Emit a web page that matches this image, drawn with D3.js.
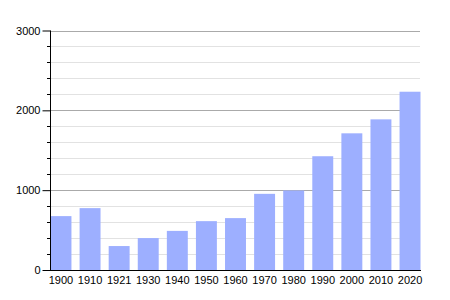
<!DOCTYPE html>
<meta charset="utf-8">
<style>
body { margin: 0; background: #fff; }
text { font: 11px "Liberation Sans", Arial, sans-serif; fill: #000; }
</style>
<body>
<script src="https://d3js.org/d3.v7.min.js"></script>
<script>

var years = ["1900","1910","1921","1930","1940","1950","1960","1970","1980","1990","2000","2010","2020"];
var population = [675, 775, 300, 400, 490, 612, 650, 954, 996, 1425, 1712, 1887, 2233];
var majorTicks = [0, 1000, 2000, 3000];

var width = 450, height = 300;
var plotLeft = 50, plotRight = 420, plotTop = 30.5, plotBottom = 270;

var svg = d3.select("body").append("svg")
    .attr("width", width)
    .attr("height", height);

var x = d3.scaleBand()
    .domain(years)
    .range([plotLeft + 0.5, plotRight + 0.5])
    .paddingInner(0.28)
    .paddingOuter(0);

var y = d3.scaleLinear()
    .domain([0, 3000])
    .range([plotBottom, plotTop]);

var minorTicks = d3.range(200, 3000, 200).filter(function(d) { return d % 1000; });

// minor grid
svg.append("g")
  .selectAll("line")
  .data(minorTicks)
  .enter().append("line")
    .attr("x1", plotLeft).attr("x2", plotRight)
    .attr("y1", function(d) { return Math.round(y(d)) + 0.5; })
    .attr("y2", function(d) { return Math.round(y(d)) + 0.5; })
    .attr("stroke", "#e2e2e2");

// major grid
svg.append("g")
  .selectAll("line")
  .data(majorTicks.slice(1))
  .enter().append("line")
    .attr("x1", plotLeft).attr("x2", plotRight)
    .attr("y1", function(d) { return Math.round(y(d)) + 0.5; })
    .attr("y2", function(d) { return Math.round(y(d)) + 0.5; })
    .attr("stroke", "#aaaaaa");

// bars
svg.append("g")
  .selectAll("rect")
  .data(years)
  .enter().append("rect")
    .attr("x", function(d) { return x(d); })
    .attr("width", x.bandwidth())
    .attr("y", function(d, i) { return y(population[i]); })
    .attr("height", function(d, i) { return y(0) - y(population[i]); })
    .attr("fill", "#9dafff");

// y axis
var yAxis = d3.axisLeft(y)
    .tickValues(majorTicks)
    .tickSize(8)
    .tickPadding(2)
    .tickFormat(d3.format("d"));

var ya = svg.append("g")
    .attr("transform", "translate(" + (plotLeft + 0.5) + ",0)")
    .call(yAxis);
ya.select(".domain").attr("stroke", "#000").attr("d", "M0," + plotTop + "V" + plotBottom);
ya.selectAll("text").style("font-size", "11px");

svg.append("g")
  .selectAll("line")
  .data(minorTicks)
  .enter().append("line")
    .attr("x1", plotLeft - 3).attr("x2", plotLeft)
    .attr("y1", function(d) { return Math.round(y(d)) + 0.5; })
    .attr("y2", function(d) { return Math.round(y(d)) + 0.5; })
    .attr("stroke", "#000");

// x axis
var xAxis = d3.axisBottom(x).tickSize(0).tickPadding(6);
var xa = svg.append("g")
    .attr("transform", "translate(0," + (plotBottom + 0.5) + ")")
    .call(xAxis);
xa.select(".domain").attr("stroke", "#000").attr("d", "M" + plotLeft + ",0H" + (plotRight + 1));
xa.selectAll("text").style("font-size", "11px");

</script>
